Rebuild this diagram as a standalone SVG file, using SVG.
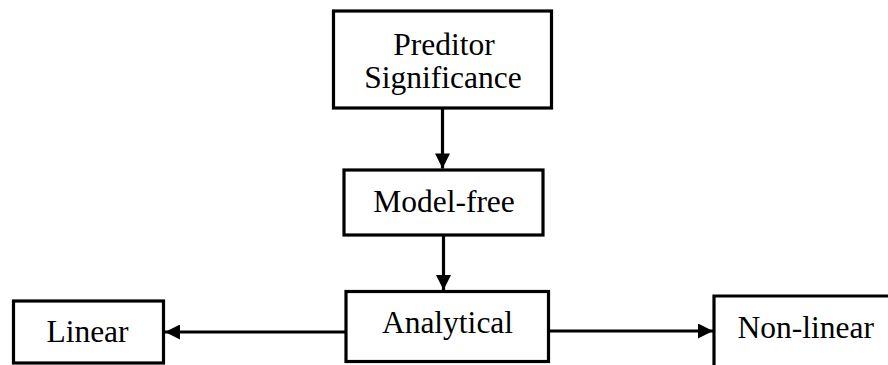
<svg xmlns="http://www.w3.org/2000/svg" width="888" height="365" viewBox="0 0 888 365">
<defs>
<style>
.box{fill:#fff;stroke:#000;stroke-width:3.2}
.lbl{font-family:"Liberation Serif","Times New Roman",serif;font-size:31.5px;fill:#000}
.c{text-anchor:middle}
.conn{stroke:#000;stroke-width:3.2;fill:none}
</style>
<marker id="ah" viewBox="0 0 10 10" refX="10" refY="5" markerWidth="16" markerHeight="15" markerUnits="userSpaceOnUse" orient="auto">
<path d="M0,0 L10,5 L0,10 z" fill="#000"/>
</marker>
</defs>
<rect width="888" height="365" fill="#fff"/>
<g id="connectors">
<line class="conn" x1="442.5" y1="108" x2="442.5" y2="168.5" marker-end="url(#ah)"/>
<line class="conn" x1="443.5" y1="235" x2="443.5" y2="290" marker-end="url(#ah)"/>
<line class="conn" x1="346" y1="332" x2="165" y2="332" marker-end="url(#ah)"/>
<line class="conn" x1="548.5" y1="331" x2="713" y2="331" marker-end="url(#ah)"/>
</g>
<g id="predictor">
<rect class="box" x="333.5" y="11" width="218" height="97"/>
<text class="lbl c" x="444" y="55">Preditor</text>
<text class="lbl c" x="443" y="87.5">Significance</text>
</g>
<g id="modelfree">
<rect class="box" x="344" y="170" width="199" height="65"/>
<text class="lbl c" x="444" y="212">Model-free</text>
</g>
<g id="analytical">
<rect class="box" x="346" y="291.5" width="202.5" height="70"/>
<text class="lbl c" x="447.5" y="333">Analytical</text>
</g>
<g id="linear">
<rect class="box" x="13.5" y="301" width="150" height="62"/>
<text class="lbl c" x="87.5" y="342">Linear</text>
</g>
<g id="nonlinear">
<path class="box" d="M714,370 L714,296 L892,296"/>
<text class="lbl" x="737.5" y="338">Non-linear</text>
</g>
</svg>
